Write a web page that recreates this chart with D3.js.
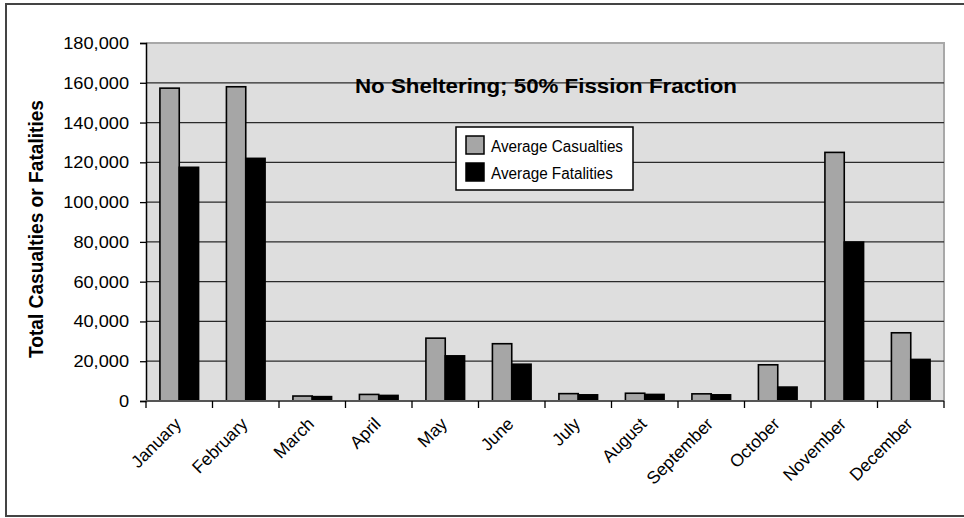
<!DOCTYPE html>
<html><head><meta charset="utf-8">
<script src="https://cdn.jsdelivr.net/npm/d3@7"></script>
<style>
body{margin:0;background:#fff;}
svg{display:block;}
text{font-family:"Liberation Sans",Arial,sans-serif;fill:#000;}
</style></head>
<body>
<svg id="c" width="964" height="518"></svg>
<script>
const months = ["January","February","March","April","May","June","July","August","September","October","November","December"];
const casualties = [157300, 158000, 2500, 3300, 31600, 28800, 3700, 3900, 3600, 18200, 125000, 34300];
const fatalities = [117500, 122000, 2200, 2800, 22700, 18500, 3100, 3300, 3100, 7000, 79900, 20900];
const seriesNames = ["Average Casualties","Average Fatalities"];
const seriesColors = ["#a6a6a6","#000000"];
const yTickValues = [0,20000,40000,60000,80000,100000,120000,140000,160000,180000];
const titleText = "No Sheltering; 50% Fission Fraction";
const yTitle = "Total Casualties or Fatalities";

const svg = d3.select("#c");
const L=146, R=944, T=43, B=401;

// outer frame
svg.append("rect").attr("x",6).attr("y",4).attr("width",962).attr("height",512)
  .attr("fill","#fff").attr("stroke","#444").attr("stroke-width",2);

const x = d3.scaleBand().domain(months).range([L,R]).padding(0);
const xs = d3.scaleBand().domain([0,1]).range([0,x.bandwidth()]).paddingInner(0).paddingOuter(0.72);
const y = d3.scaleLinear().domain([0,180000]).range([B,T]);

// plot background
svg.append("rect").attr("x",L).attr("y",T).attr("width",R-L).attr("height",B-T)
  .attr("fill","#dedede");
// plot border top & right
svg.append("path").attr("d",`M${L},${T}H${R}V${B}`).attr("fill","none")
  .attr("stroke","#a8a8a8").attr("stroke-width",2);

// gridlines
svg.append("g").selectAll("line").data(yTickValues.filter(v=>v>0 && v<180000)).join("line")
  .attr("x1",L).attr("x2",R).attr("y1",d=>y(d)).attr("y2",d=>y(d))
  .attr("stroke","#2a2a2a").attr("stroke-width",1.3);

// bars
const data = months.map((m,i)=>({m, vals:[casualties[i],fatalities[i]]}));
const g = svg.append("g");
data.forEach(d=>{
  d.vals.forEach((v,k)=>{
    g.append("rect")
      .attr("x",x(d.m)+xs(k)).attr("width",xs.bandwidth())
      .attr("y",y(v)).attr("height",B-y(v))
      .attr("fill",seriesColors[k]).attr("stroke","#000").attr("stroke-width",1.6);
  });
});

// y axis
const ya = svg.append("g").attr("transform",`translate(${L},0)`)
  .call(d3.axisLeft(y).tickValues(yTickValues).tickSize(6).tickPadding(11).tickFormat(d3.format(",")));
ya.select(".domain").attr("stroke","#000").attr("stroke-width",1.5);
ya.selectAll(".tick line").attr("stroke","#000").attr("stroke-width",1.3);
ya.selectAll(".tick text").style("font-size","17px").attr("font-family",null)
  .each(function(){ const w=this.getComputedTextLength(); d3.select(this).attr("textLength",w*1.07).attr("lengthAdjust","spacingAndGlyphs"); });

// x axis
const xa = svg.append("g").attr("transform",`translate(0,${B})`);
xa.append("line").attr("x1",L).attr("x2",R).attr("stroke","#555").attr("stroke-width",2);
xa.selectAll("line.t").data(months.concat(["end"])).join("line").attr("class","t")
  .attr("x1",(d,i)=> i<months.length ? x(d) : R).attr("x2",(d,i)=> i<months.length ? x(d) : R)
  .attr("y1",0).attr("y2",7).attr("stroke","#000").attr("stroke-width",1.3);
xa.selectAll("text").data(months).join("text")
  .attr("text-anchor","end")
  .attr("transform",d=>`translate(${x(d)+x.bandwidth()/2+3},${24}) rotate(-45)`)
  .style("font-size","17.5px").text(d=>d);

// title
svg.append("text").attr("x",546).attr("y",93).attr("text-anchor","middle")
  .style("font-size","21px").style("font-weight","bold")
  .attr("textLength",382).attr("lengthAdjust","spacingAndGlyphs").text(titleText);

// y title
svg.append("text").attr("transform","translate(43,229) rotate(-90)").attr("text-anchor","middle")
  .style("font-size","19.5px").style("font-weight","bold")
  .attr("textLength",258).attr("lengthAdjust","spacingAndGlyphs").text(yTitle);

// legend
const lg = svg.append("g");
lg.append("rect").attr("x",456).attr("y",127).attr("width",177).attr("height",63)
  .attr("fill","#fff").attr("stroke","#000").attr("stroke-width",1.5);
seriesNames.forEach((n,k)=>{
  lg.append("rect").attr("x",466).attr("y",136+k*27).attr("width",18).attr("height",18)
    .attr("fill",seriesColors[k]).attr("stroke","#000").attr("stroke-width",1.5);
  lg.append("text").attr("x",491).attr("y",152+k*27).style("font-size","16px")
    .attr("textLength", k===0?132:122).attr("lengthAdjust","spacingAndGlyphs").text(n);
});
</script>
</body></html>
